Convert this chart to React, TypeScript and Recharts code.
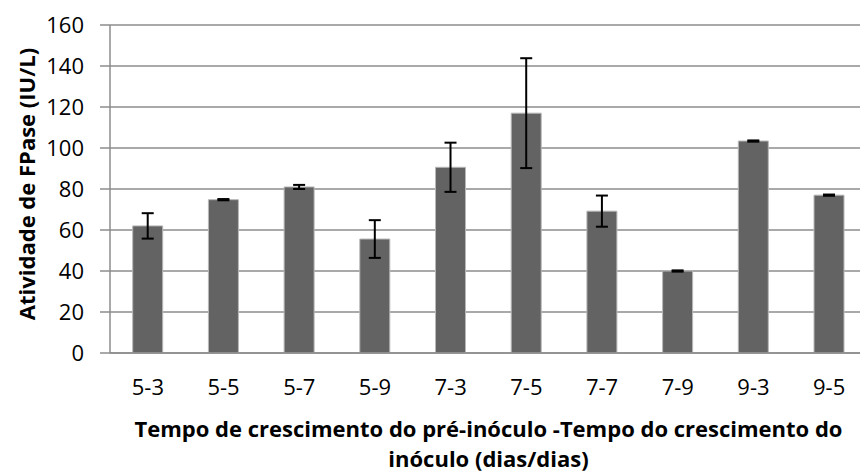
import React from 'react';
import { BarChart, Bar, XAxis, YAxis, CartesianGrid, ErrorBar, Label } from 'recharts';

const categories = ['5-3', '5-5', '5-7', '5-9', '7-3', '7-5', '7-7', '7-9', '9-3', '9-5'];
const activity = [62, 74.8, 81, 55.6, 90.6, 117, 69.2, 40, 103.4, 77];
const errors = [6.2, 0.3, 1, 9.2, 12, 26.8, 7.6, 0.3, 0.3, 0.3];
const yTicks = [0, 20, 40, 60, 80, 100, 120, 140, 160];

const yTitle = 'Atividade de FPase (IU/L)';
const xTitleLines = ['Tempo de crescimento do pré-inóculo -Tempo do crescimento do', 'inóculo (dias/dias)'];

const data = categories.map((c, i) => ({ name: c, value: activity[i], err: errors[i] }));

const FONT = '"Open Sans", sans-serif';

const renderXTitle = (props: any) => {
  const vb = props.viewBox || {};
  const cx = vb.x + vb.width / 2;
  const base = vb.y;
  return (
    <g>
      <text x={cx} y={base + 84} textAnchor="middle" fontFamily={FONT} fontSize={22} fontWeight="bold" fill="#000">
        {xTitleLines[0]}
      </text>
      <text x={cx} y={base + 114} textAnchor="middle" fontFamily={FONT} fontSize={22} fontWeight="bold" fill="#000">
        {xTitleLines[1]}
      </text>
    </g>
  );
};

const renderYTitle = (props: any) => {
  const vb = props.viewBox || {};
  const cy = vb.y + vb.height / 2 - 5;
  const x = 35;
  return (
    <text
      x={x}
      y={cy}
      textAnchor="middle"
      transform={`rotate(-90, ${x}, ${cy})`}
      fontFamily={FONT}
      fontSize={22}
      fontWeight="bold"
      fill="#000"
    >
      {yTitle}
    </text>
  );
};

const renderYTick = (props: any) => {
  const { y, payload } = props;
  return (
    <text x={84} y={y} dy="0.355em" textAnchor="end" fontFamily={FONT} fontSize={22} fill="#000">
      {payload.value}
    </text>
  );
};

export default function App() {
  return (
    <div style={{ position: 'absolute', left: 0, top: 0, width: 860, height: 473, overflow: 'hidden', background: '#fff' }}>
      <BarChart
        width={867}
        height={473}
        data={data}
        margin={{ top: 25, right: 0, bottom: 0, left: 0 }}
        barCategoryGap="30%"
      >
        <CartesianGrid vertical={false} stroke="#8c8c8c" strokeWidth={1.5} />
        <XAxis
          dataKey="name"
          tickLine={false}
          tickSize={0}
          tickMargin={26}
          axisLine={{ stroke: '#8c8c8c', strokeWidth: 1.5 }}
          tick={{ fontFamily: FONT, fontSize: 22, fill: '#000' }}
          interval={0}
          height={120}
        >
          <Label content={renderXTitle} />
        </XAxis>
        <YAxis
          width={110}
          domain={[0, 160]}
          ticks={yTicks}
          interval={0}
          tickSize={10}
          tickLine={{ stroke: '#8c8c8c', strokeWidth: 1.5 }}
          axisLine={{ stroke: '#8c8c8c', strokeWidth: 1.5 }}
          tick={renderYTick}
        >
          <Label content={renderYTitle} />
        </YAxis>
        <Bar dataKey="value" fill="#636363" stroke="#b8b8b8" strokeWidth={1} isAnimationActive={false}>
          <ErrorBar dataKey="err" width={6} stroke="#000" strokeWidth={2} direction="y" />
        </Bar>
      </BarChart>
    </div>
  );
}
